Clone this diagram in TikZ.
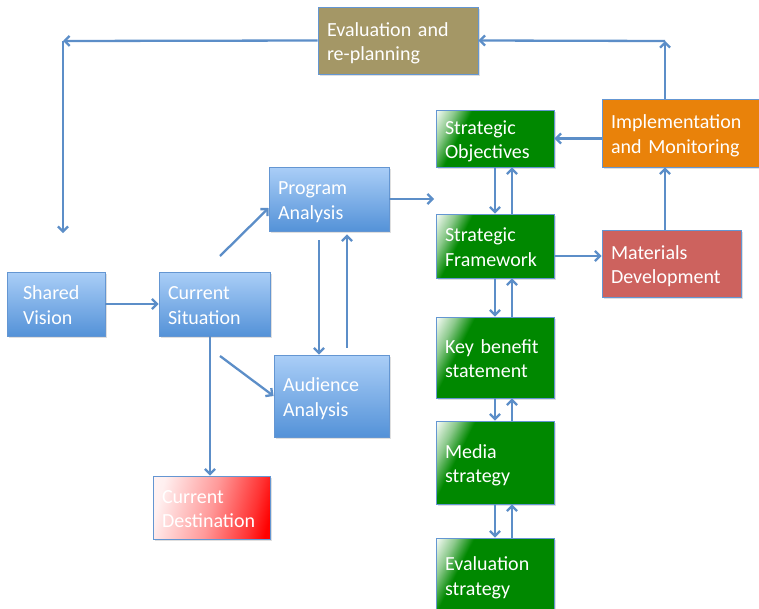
\documentclass[tikz,border=0pt]{standalone}
\usepackage{fontspec}
\setmainfont{Carlito}
\usetikzlibrary{arrows.meta,shadows,calc}
\definecolor{arrc}{RGB}{92,142,200}
\definecolor{bord}{RGB}{100,150,210}
\definecolor{bluetop}{RGB}{170,206,247}
\definecolor{bluebot}{RGB}{84,146,216}
\definecolor{gnc}{RGB}{0,136,0}
\definecolor{olivec}{RGB}{164,151,102}
\definecolor{orngc}{RGB}{233,130,10}
\definecolor{mdred}{RGB}{205,98,94}
\definecolor{redc}{RGB}{255,0,0}
\pgfdeclarehorizontalshading{greenfade}{100bp}{color(0bp)=(white); color(16bp)=(white); color(25bp)=(gnc!45!white); color(33bp)=(gnc); color(100bp)=(gnc)}
\pgfdeclarehorizontalshading{redfade}{100bp}{color(0bp)=(white); color(25bp)=(redc!6!white); color(50bp)=(redc!40!white); color(70bp)=(redc!80!white); color(78bp)=(redc); color(100bp)=(redc)}
\begin{document}
\begin{tikzpicture}[x=1pt,y=-1pt,
  box/.style={draw=bord, line width=0.8pt, text=white, align=left, inner xsep=9pt, inner ysep=0pt,
    text height=14pt, text depth=23pt,
    font=\fontsize{20}{24.5}\selectfont,
    drop shadow={shadow xshift=1.5pt, shadow yshift=-2pt, opacity=0.25}},
  bluebox/.style={box, top color=bluetop, bottom color=bluebot},
  greenbox/.style={box, shading=greenfade, shading angle=-27},
  arr/.style={draw=arrc, line width=2.3pt, -{Straight Barb[length=5pt,width=10pt]}}]
\useasboundingbox (0,0) rectangle (759,608);
\fill[white] (0,0) rectangle (759,608);

\node[box, fill=olivec, minimum width=160pt, minimum height=67pt, text width=142pt] (eval) at (398,40.5) {Evaluation and\\re-planning};
\node[box, fill=orngc, minimum width=158pt, minimum height=68pt, text width=140pt] (impl) at (681,133) {Implementation\\and Monitoring};
\node[greenbox, minimum width=118pt, minimum height=57pt, text width=100pt] (so) at (495,138.5) {Strategic\\Objectives};
\node[bluebox, minimum width=120pt, minimum height=64pt, text width=102pt] (pa) at (329,199) {Program\\Analysis};
\node[greenbox, minimum width=118pt, minimum height=64pt, text width=100pt] (sf) at (495,246) {Strategic\\Framework};
\node[box, fill=mdred, minimum width=139pt, minimum height=67pt, text width=121pt] (md) at (671.5,263.5) {Materials\\Development};
\node[bluebox, inner xsep=16pt, minimum width=98pt, minimum height=64pt, text width=66pt] (sv) at (56,304) {Shared\\Vision};
\node[bluebox, minimum width=111pt, minimum height=64pt, text width=93pt] (cs) at (214.5,304) {Current\\Situation};
\node[greenbox, minimum width=118pt, minimum height=81pt, text width=100pt] (kb) at (495,357.5) {Key benefit\\statement};
\node[bluebox, minimum width=115pt, minimum height=82pt, text width=97pt] (aa) at (331.5,396) {Audience\\Analysis};
\node[greenbox, minimum width=118pt, minimum height=83pt, text width=100pt] (ms) at (495,462.5) {Media\\strategy};
\node[box, shading=redfade, shading angle=-15, minimum width=117pt, minimum height=63pt, text width=99pt] (cd) at (211.5,507.5) {Current\\Destination};
\node[greenbox, minimum width=118pt, minimum height=74pt, text width=100pt] (es) at (495,575) {Evaluation\\strategy};

\coordinate (c1) at (63,41);
\coordinate (c2) at (63,233);
\coordinate (c3) at (665,41);
\coordinate (c4) at (434,199);
\coordinate (c5) at (220,256);
\coordinate (c6) at (220,356);
\coordinate (sfe) at ([yshift=-10pt]sf.east);
\coordinate (pd) at ([xshift=-10pt]pa.south);
\coordinate (pu) at ([xshift=18pt]pa.south);
\coordinate (cx) at ([xshift=-4.5pt]cs.south);

\draw[arr] (eval.west) -- (c1);
\draw[arr] (c1) -- (c2);
\draw[arr] (c3 |- impl.north) -- (c3);
\draw[arr] (c3) -- (eval.east);
\draw[arr] (so.east -| impl.west) -- (so.east);
\draw[arr] (so.south) -- (sf.north);
\draw[arr] ([xshift=17pt]sf.north) -- ([xshift=17pt]so.south);
\draw[arr] (pa.east) -- (c4);
\draw[arr] (sfe) -- (sfe -| md.west);
\draw[arr] (c3 |- md.north) -- (c3 |- impl.south);
\draw[arr] (sv.east) -- (cs.west);
\draw[arr] (c5) -- ([yshift=-9pt]pa.west);
\draw[arr, shorten <=9pt] (pd) -- (pd |- aa.north);
\draw[arr, shorten <=7pt, shorten >=3pt] (pu |- aa.north) -- (pu);
\draw[arr] (c6) -- (aa.west);
\draw[arr] (cx) -- (cx |- cd.north);
\draw[arr] (sf.south) -- (kb.north);
\draw[arr] ([xshift=17pt]kb.north) -- ([xshift=17pt]sf.south);
\draw[arr] (kb.south) -- (ms.north);
\draw[arr] ([xshift=17pt]ms.north) -- ([xshift=17pt]kb.south);
\draw[arr] (ms.south) -- (es.north);
\draw[arr] ([xshift=17pt]es.north) -- ([xshift=17pt]ms.south);
\end{tikzpicture}
\end{document}
